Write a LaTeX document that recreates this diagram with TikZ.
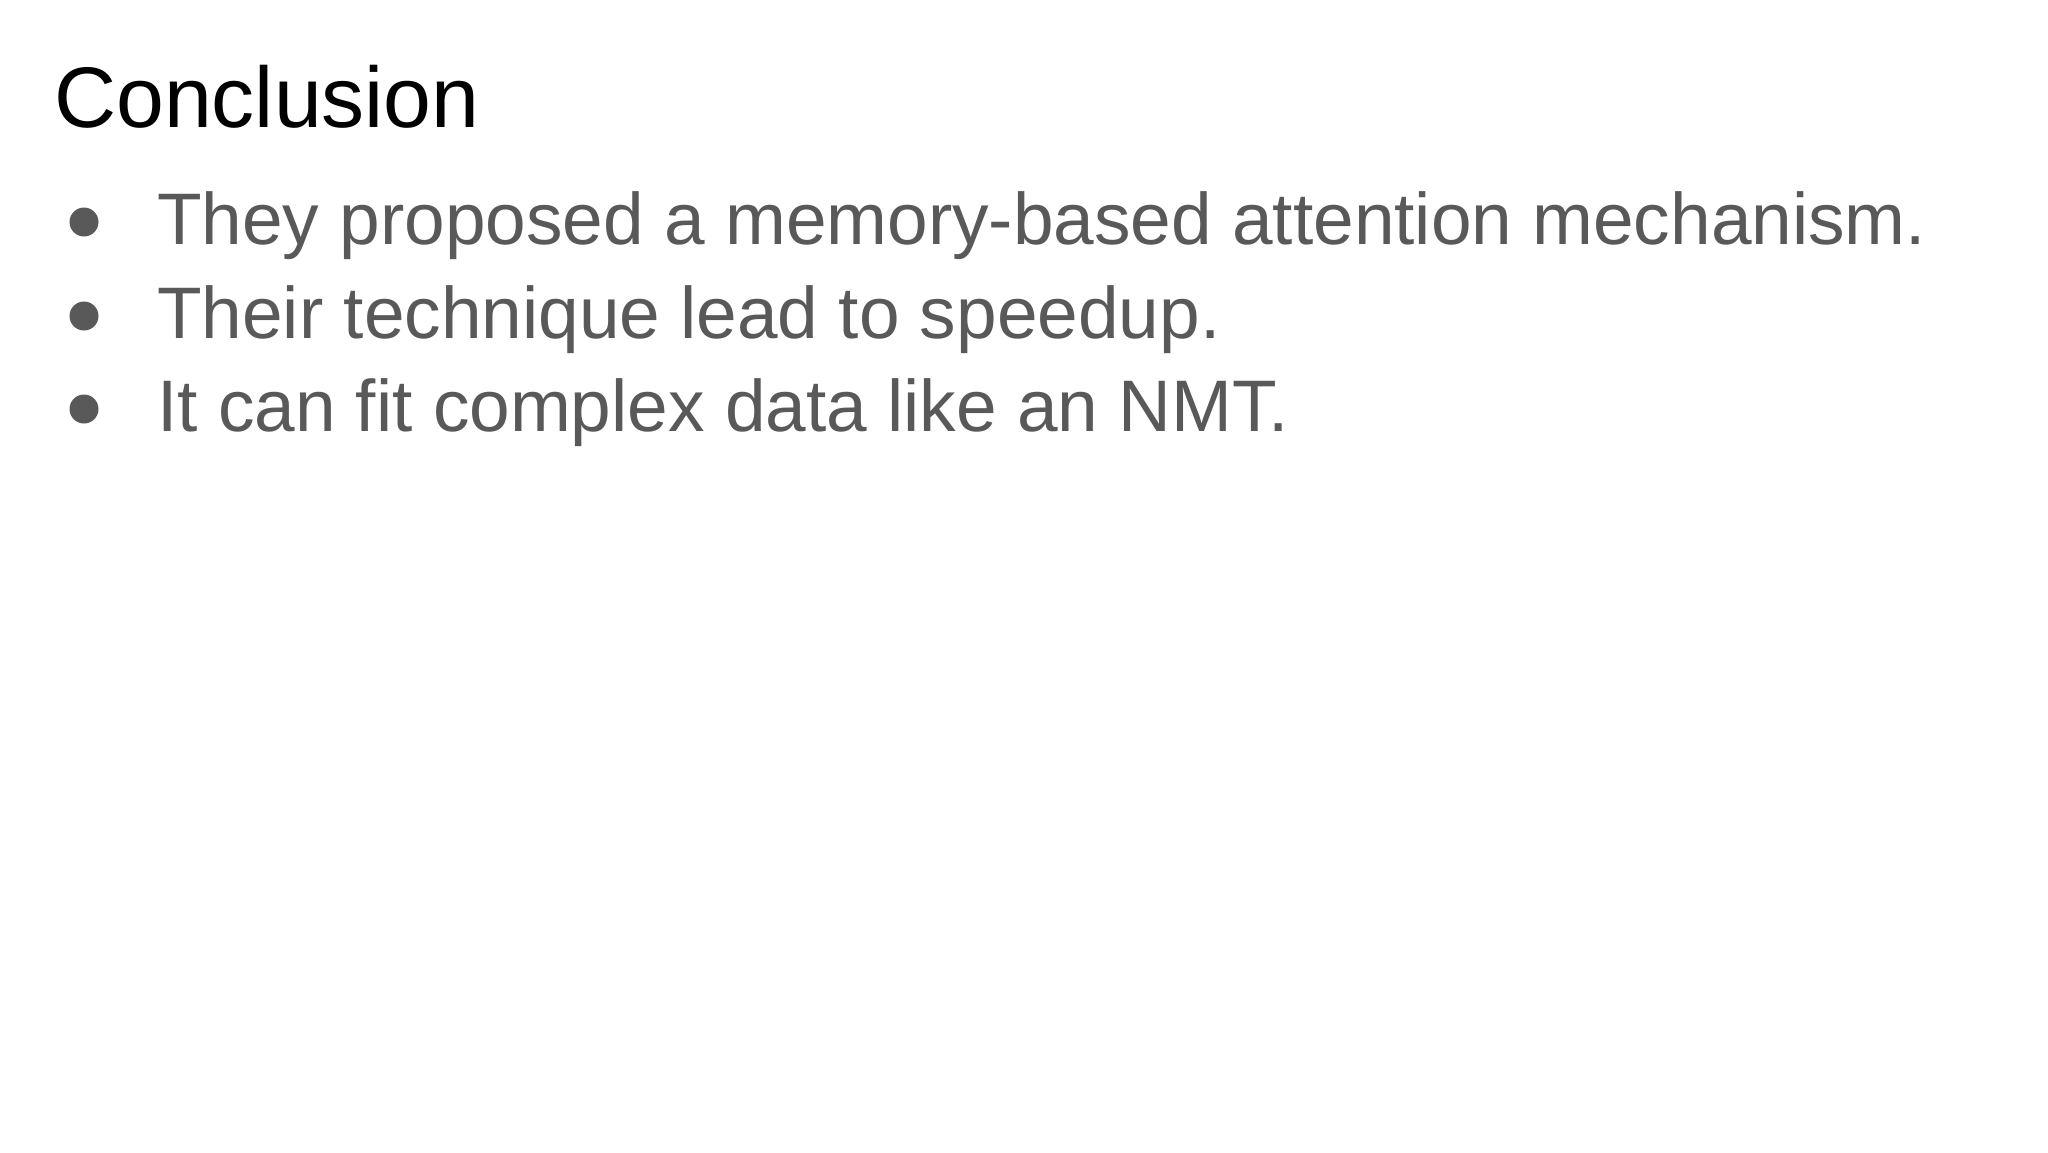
\documentclass[tikz,border=0pt]{standalone}
\usepackage{fontspec}
\setmainfont{Liberation Sans}
\definecolor{bodygrey}{HTML}{595959}
\begin{document}
\begin{tikzpicture}[x=1pt,y=-1pt,
  title/.style={anchor=base west,inner sep=0pt,font=\fontsize{86}{96}\selectfont,text=black},
  item/.style={anchor=base west,inner sep=0pt,font=\fontsize{73}{84}\selectfont,text=bodygrey},
  dot/.style={circle,fill=bodygrey,minimum size=29pt,inner sep=0pt}]
\useasboundingbox (0,0) rectangle (2048,1152);
\node[title] (t) at (54,127) {Conclusion};
\node[dot] (d1) at (84,222) {};
\node[item] (b1) at (157,244) {They proposed a memory-based attention mechanism.};
\node[dot] (d2) at (84,316) {};
\node[item] (b2) at (157,338) {Their technique lead to speedup.};
\node[dot] (d3) at (84,409) {};
\node[item] (b3) at (157,431) {It can fit complex data like an NMT.};
\end{tikzpicture}
\end{document}
